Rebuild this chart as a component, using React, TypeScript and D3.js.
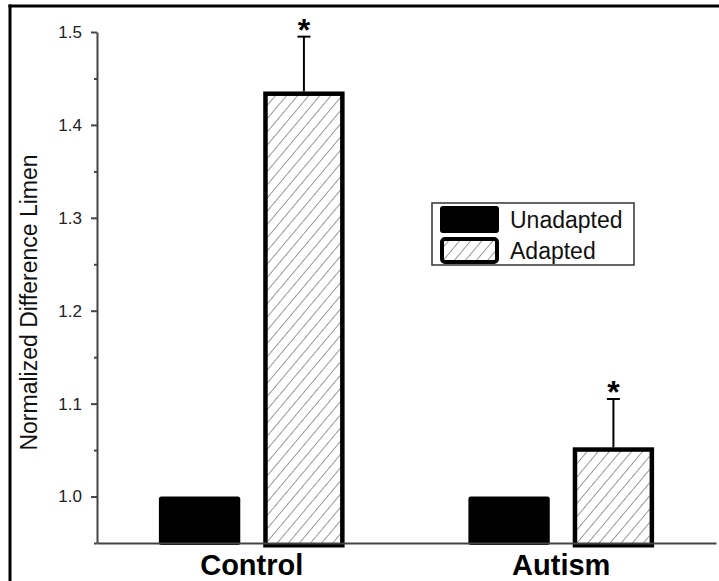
import React, { useEffect, useRef } from "react";
import * as d3 from "d3";

const groups = ["Control", "Autism"];
const conditions = ["Unadapted", "Adapted"];
const unadaptedValues = [1.0, 1.0];
const adaptedValues = [1.436, 1.053];
const adaptedErrors = [0.059, 0.052];
const significant = [true, true];
const majorTicks = [1.0, 1.1, 1.2, 1.3, 1.4, 1.5];
const minorTicks = [0.95, 1.05, 1.15, 1.25, 1.35, 1.45];
const yTitle = "Normalized Difference Limen";

const FONT = "'Liberation Sans', Arial, Helvetica, sans-serif";

export default function App() {
  const svgRef = useRef<SVGSVGElement>(null);

  useEffect(() => {
    const width = 719;
    const height = 581;
    const svg = d3.select(svgRef.current).attr("width", width).attr("height", height);
    svg.selectAll("*").remove();

    // hatch fill for the adapted bars
    svg.append("defs")
      .append("pattern")
      .attr("id", "hatch")
      .attr("patternUnits", "userSpaceOnUse")
      .attr("width", 8.5)
      .attr("height", 8.5)
      .attr("patternTransform", "rotate(40)")
      .call(p => p.append("rect").attr("width", 8.5).attr("height", 8.5).attr("fill", "#fff"))
      .append("line")
      .attr("x1", 0).attr("y1", 0).attr("x2", 0).attr("y2", 8.5)
      .attr("stroke", "#555")
      .attr("stroke-width", 1.2);

    // outer frame (top + left edges only visible)
    svg.append("line").attr("x1", 8.5).attr("x2", width).attr("y1", 6).attr("y2", 6)
      .attr("stroke", "#000").attr("stroke-width", 3);
    svg.append("line").attr("x1", 10).attr("x2", 10).attr("y1", 4.5).attr("y2", height)
      .attr("stroke", "#000").attr("stroke-width", 3);

    const y = d3.scaleLinear().domain([0.95, 1.5]).range([543, 32]);
    const x0 = d3.scaleBand().domain(groups).range([97, 716]).paddingInner(0.4).paddingOuter(0.2);
    const x1 = d3.scaleBand().domain(conditions).range([0, x0.bandwidth()]).paddingInner(0.22);

    // y axis
    const yAxis = svg.append("g").attr("transform", "translate(97,0)")
      .call(d3.axisLeft(y).tickValues(majorTicks).tickSize(6).tickSizeOuter(0).tickPadding(9)
        .tickFormat(d3.format(".1f")));
    svg.append("g").attr("transform", "translate(97,0)")
      .call(d3.axisLeft(y).tickValues(minorTicks).tickSize(3).tickSizeOuter(0).tickFormat(() => ""))
      .call(g => g.select(".domain").remove())
      .selectAll("line").attr("stroke", "#444").attr("stroke-width", 2);
    yAxis.select(".domain").attr("stroke", "#444").attr("stroke-width", 2);
    yAxis.selectAll("line").attr("stroke", "#444").attr("stroke-width", 2);
    yAxis.selectAll("text").attr("font-family", FONT).attr("font-size", 17).attr("fill", "#222");

    // y title
    svg.append("text")
      .attr("transform", `translate(37,${(y(1.5) + y(0.95)) / 2 + 15}) rotate(-90)`)
      .attr("text-anchor", "middle")
      .attr("font-family", FONT).attr("font-size", 23).attr("fill", "#111")
      .text(yTitle);

    // bars
    const rows = groups.map((g, i) => ({
      group: g,
      unadapted: unadaptedValues[i],
      adapted: adaptedValues[i],
      err: adaptedErrors[i],
      sig: significant[i],
    }));

    const base = y.range()[0];
    const gBars = svg.append("g");
    gBars.selectAll("rect.unadapted").data(rows).enter().append("rect")
      .attr("class", "unadapted")
      .attr("x", d => x0(d.group)! + x1("Unadapted")!)
      .attr("y", d => y(d.unadapted))
      .attr("width", x1.bandwidth())
      .attr("height", d => base - y(d.unadapted) + 2)
      .attr("rx", 2.5)
      .attr("fill", "#000");

    gBars.selectAll("line.err").data(rows).enter().append("line")
      .attr("class", "err")
      .attr("x1", d => x0(d.group)! + x1("Adapted")! + x1.bandwidth() / 2)
      .attr("x2", d => x0(d.group)! + x1("Adapted")! + x1.bandwidth() / 2)
      .attr("y1", d => y(d.adapted))
      .attr("y2", d => y(d.adapted + d.err))
      .attr("stroke", "#000").attr("stroke-width", 2);
    gBars.selectAll("line.cap").data(rows).enter().append("line")
      .attr("class", "cap")
      .attr("x1", d => x0(d.group)! + x1("Adapted")! + x1.bandwidth() / 2 - 6.5)
      .attr("x2", d => x0(d.group)! + x1("Adapted")! + x1.bandwidth() / 2 + 6.5)
      .attr("y1", d => y(d.adapted + d.err))
      .attr("y2", d => y(d.adapted + d.err))
      .attr("stroke", "#000").attr("stroke-width", 2);

    gBars.selectAll("rect.adapted").data(rows).enter().append("rect")
      .attr("class", "adapted")
      .attr("x", d => x0(d.group)! + x1("Adapted")! + 2.25)
      .attr("y", d => y(d.adapted) + 2.25)
      .attr("width", x1.bandwidth() - 4.5)
      .attr("height", d => base - y(d.adapted))
      .attr("fill", "url(#hatch)")
      .attr("stroke", "#000").attr("stroke-width", 4.5);

    gBars.selectAll("text.sig").data(rows.filter(d => d.sig)).enter().append("text")
      .attr("class", "sig")
      .attr("x", d => x0(d.group)! + x1("Adapted")! + x1.bandwidth() / 2)
      .attr("y", d => y(d.adapted + d.err) + 4)
      .attr("text-anchor", "middle")
      .attr("font-family", FONT).attr("font-weight", "bold").attr("font-size", 32)
      .attr("fill", "#000")
      .text("*");

    // x axis
    const xAxis = svg.append("g").attr("transform", `translate(0,${base})`)
      .call(d3.axisBottom(x0).tickSize(0).tickSizeOuter(0));
    xAxis.select(".domain").attr("stroke", "#444").attr("stroke-width", 2);
    xAxis.selectAll("text")
      .attr("y", 32).attr("dy", 0)
      .attr("font-family", FONT).attr("font-weight", "bold").attr("font-size", 29).attr("fill", "#000");

    // legend
    const legend = svg.append("g").attr("transform", "translate(432,203)");
    legend.append("rect").attr("x", 0).attr("y", 0).attr("width", 202).attr("height", 62)
      .attr("fill", "#fff").attr("stroke", "#333").attr("stroke-width", 1.5);
    const items = legend.selectAll("g.item").data(conditions).enter().append("g")
      .attr("class", "item")
      .attr("transform", (d, i) => `translate(8,${3 + i * 31})`);
    items.append("rect")
      .attr("x", d => (d === "Adapted" ? 2 : 0))
      .attr("y", d => (d === "Adapted" ? 2 : 0))
      .attr("width", d => (d === "Adapted" ? 55 : 59))
      .attr("height", d => (d === "Adapted" ? 23 : 27))
      .attr("rx", 3)
      .attr("fill", d => (d === "Adapted" ? "url(#hatch)" : "#000"))
      .attr("stroke", d => (d === "Adapted" ? "#000" : "none"))
      .attr("stroke-width", 4);
    items.append("text")
      .attr("x", 70).attr("y", 13.5).attr("dy", "0.35em")
      .attr("font-family", FONT).attr("font-size", 23).attr("fill", "#111")
      .text(d => d);
  }, []);

  return (
    <svg ref={svgRef} style={{ position: "absolute", left: 0, top: 0, display: "block", background: "#fff" }} />
  );
}
